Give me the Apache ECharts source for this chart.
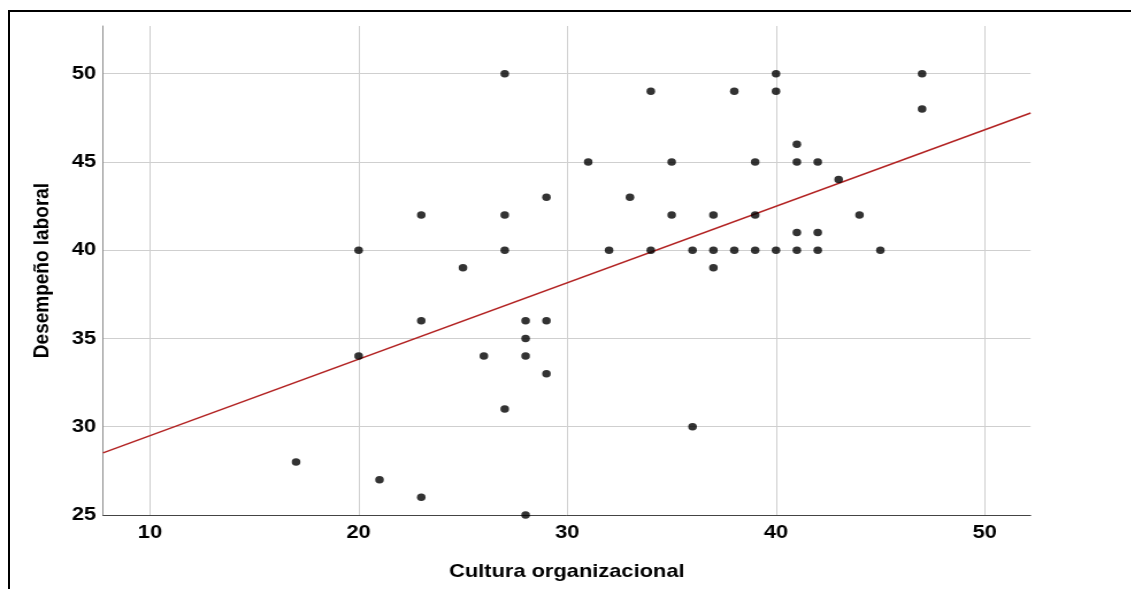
<!DOCTYPE html>
<html><head><meta charset="utf-8">
<script src="https://cdn.jsdelivr.net/npm/echarts@6/dist/echarts.min.js"></script>
<style>
html,body{margin:0;padding:0;background:#fff;overflow:hidden;width:1131px;height:589px}
#frame{position:absolute;left:8px;top:10px;width:1200px;height:700px;border-top:2px solid #000;border-left:2px solid #000;box-sizing:border-box}
#chart{position:absolute;left:0;top:0;width:983.5px;height:589px;transform:scaleX(1.15);transform-origin:0 0}
</style></head><body>
<div id="frame"></div>
<div id="chart"></div>
<script>
// Cultura organizacional (x) and Desempeño laboral (y)
const cultura = [17,20,20,21,23,23,23,25,26,27,27,27,27,28,28,28,28,29,29,29,31,32,33,34,34,35,35,36,36,37,37,37,38,38,39,39,39,40,40,40,41,41,41,41,42,42,42,43,44,45,47,47];
const desempeno = [28,40,34,27,42,36,26,39,34,50,42,40,31,36,35,34,25,43,36,33,45,40,43,49,40,45,42,40,30,42,40,39,49,40,45,42,40,50,49,40,46,45,41,40,45,41,40,44,42,40,50,48];
// fitted line end points
const fitX = [7.75, 52.2];
const fitY = [28.52, 47.77];
const xTitle = 'Cultura organizacional';
const yTitle = 'Desempeño laboral';
const xRange = [7.75, 52.2];
const yRange = [25, 52.7];

const S = 1.15;
const points = cultura.map((x, i) => [x, desempeno[i]]);
const fitPts = fitX.map((x, i) => [x, fitY[i]]);
const font = 'Liberation Sans, Arial, sans-serif';

const chart = echarts.init(document.getElementById('chart'));
chart.setOption({
  animation: false,
  backgroundColor: 'transparent',
  grid: { left: 103 / S, right: (1131 - 1030) / S, top: 26, bottom: 74, containLabel: false },
  xAxis: {
    type: 'value', min: xRange[0], max: xRange[1],
    axisLine: { show: true, lineStyle: { color: '#444', width: 1 } },
    axisTick: { show: false },
    axisLabel: { showMinLabel: false, showMaxLabel: false, color: '#000', fontSize: 19, fontWeight: 'bold', fontFamily: font, margin: 8 },
    splitLine: { show: true, showMinLine: false, showMaxLine: false, lineStyle: { color: '#cfcfcf', width: 1 } },
    name: xTitle, nameLocation: 'middle', nameGap: 47,
    nameTextStyle: { color: '#000', fontSize: 19, fontWeight: 'bold', fontFamily: font }
  },
  yAxis: {
    type: 'value', min: yRange[0], max: yRange[1],
    axisLine: { show: true, lineStyle: { color: '#8c8c8c', width: 1 } },
    axisTick: { show: false },
    axisLabel: { showMaxLabel: false, color: '#000', fontSize: 19, fontWeight: 'bold', fontFamily: font, margin: 6 },
    splitLine: { show: true, showMinLine: false, showMaxLine: false, lineStyle: { color: '#cfcfcf', width: 1 } },
    name: yTitle, nameLocation: 'middle', nameGap: 43, nameRotate: 90,
    nameTextStyle: { color: '#000', fontSize: 19, fontWeight: 'bold', fontFamily: font }
  },
  series: [
    {
      type: 'line', data: fitPts, symbol: 'none', silent: true,
      lineStyle: { color: '#b22222', width: 1.5 }, z: 2
    },
    {
      type: 'scatter', data: points, symbol: 'circle', symbolSize: [7.5, 7.5],
      itemStyle: { color: '#000' }, z: 3
    }
  ]
});
</script>
</body></html>
